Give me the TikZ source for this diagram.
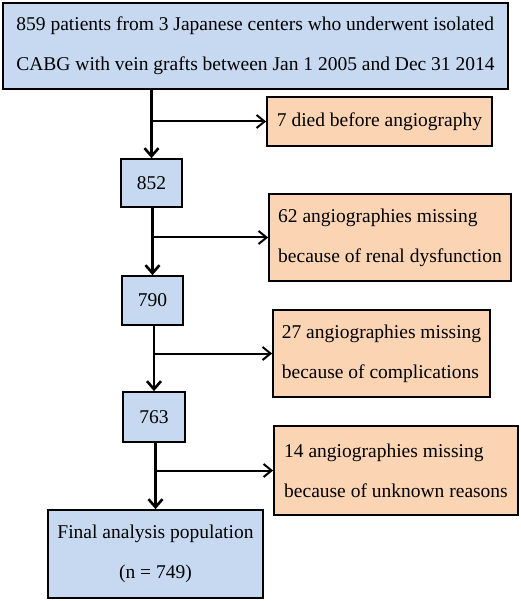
\documentclass[tikz,border=0pt]{standalone}
\usepackage{fontspec}
\setmainfont{Liberation Serif}
\usetikzlibrary{arrows.meta}
\definecolor{boxblue}{RGB}{198,217,240}
\definecolor{boxorange}{RGB}{251,212,180}
\tikzstyle{count} = [draw, rectangle, line width=1.7pt, fill=boxblue, inner sep=0pt, align=center, font=\fontsize{19.5}{40}\selectfont]
\tikzstyle{excl} = [draw, rectangle, line width=1.7pt, fill=boxorange, inner sep=0pt, align=left, font=\fontsize{19.5}{40}\selectfont]
\tikzstyle{arrow} = [line width=2.6pt, -{Straight Barb[length=8pt,width=14pt,line width=2.6pt]}]
\tikzstyle{side} = [line width=2pt, -{Straight Barb[length=8pt,width=13pt,line width=2pt]}]

\begin{document}
\begin{tikzpicture}[x=1pt, y=-1pt]
    \useasboundingbox (0,0) rectangle (520,601);

    % Patient counts
    \node (start) [count, minimum width=505pt, minimum height=86pt, align=left] at (255.5,46) {859 patients from 3 Japanese centers who underwent isolated\\CABG with vein grafts between Jan 1 2005 and Dec 31 2014};
    \node (n852) [count, minimum width=61pt, minimum height=48pt] at (151.5,183) {852};
    \node (n790) [count, minimum width=61pt, minimum height=49pt] at (152.5,300.5) {790};
    \node (n763) [count, minimum width=62pt, minimum height=50pt] at (154,417) {763};
    \node (final) [count, minimum width=215pt, minimum height=88pt] at (155.5,554) {Final analysis population\\(n = 749)};

    % Exclusions
    \node (died) [excl, minimum width=225pt, minimum height=49pt] at (379.5,121.5) {7 died before angiography};
    \node (renal) [excl, minimum width=242pt, minimum height=87pt] at (390,237.5) {62 angiographies missing\\because of renal dysfunction};
    \node (compl) [excl, minimum width=217pt, minimum height=87pt] at (381.5,353.5) {27 angiographies missing\\because of complications};
    \node (unknown) [excl, minimum width=244pt, minimum height=89pt] at (396,470.5) {14 angiographies missing\\because of unknown reasons};

    % Connections
    \draw [arrow] (n852.north |- start.south) -- (n852.north);
    \draw [arrow] (n790.north |- n852.south) -- (n790.north);
    \draw [arrow] (n763.north |- n790.south) -- (n763.north);
    \draw [arrow] (final.north |- n763.south) -- (final.north);
    \draw [side] (died.west -| n852.north) -- (died.west);
    \draw [side] (renal.west -| n790.north) -- (renal.west);
    \draw [side] (compl.west -| n763.north) -- (compl.west);
    \draw [side] (unknown.west -| final.north) -- (unknown.west);
\end{tikzpicture}
\end{document}
